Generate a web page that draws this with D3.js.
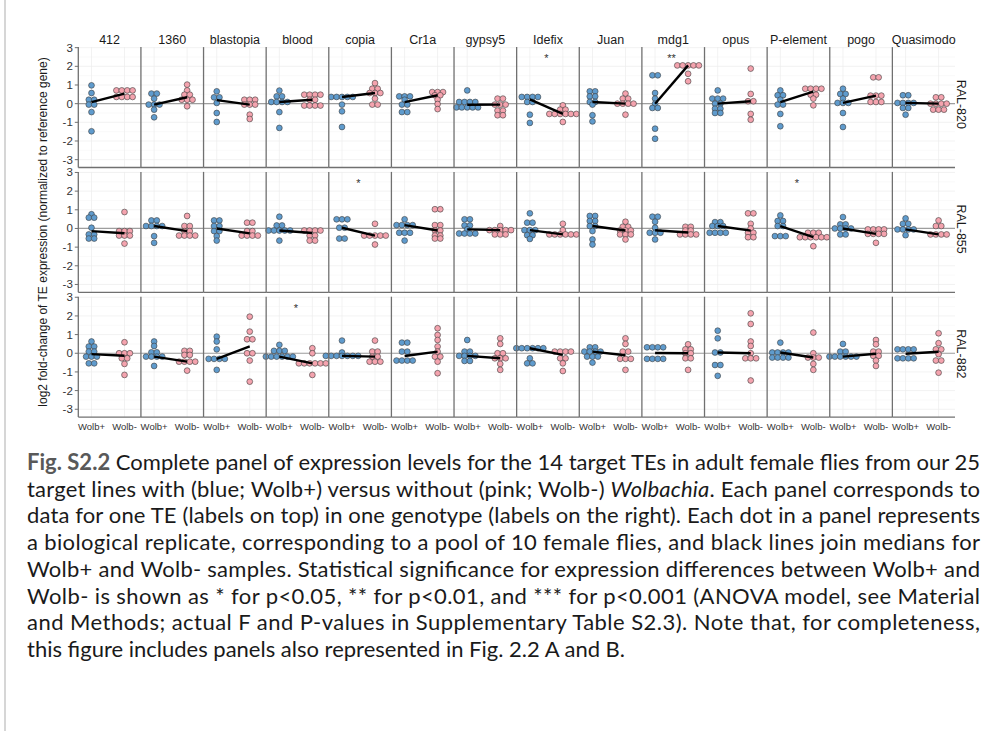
<!DOCTYPE html>
<html>
<head>
<meta charset="utf-8">
<script src="https://cdn.jsdelivr.net/npm/d3@7"></script>
<style>
  body { margin: 0; background: #fff; }
  text { font-family: "Liberation Sans", Arial, sans-serif; }
  .cap { font-family: Lato, "Open Sans", sans-serif; }
</style>
</head>
<body>
<svg id="fig" width="992" height="731"></svg>
<script>
// Transposable elements (columns), genotypes (rows) and infection groups
const elements = ["412","1360","blastopia","blood","copia","Cr1a","gypsy5","Idefix","Juan","mdg1","opus","P-element","pogo","Quasimodo"];
const genotypes = ["RAL-820","RAL-855","RAL-882"];
const groups = ["Wolb+","Wolb-"];
const yTicks = [-3,-2,-1,0,1,2,3];

// log2 fold-change per biological replicate, one array per TE (same order as `elements`)
const plus820 = [
  [0.98,0.57,0.21,0.21,-0.05,-0.05,-0.45,-1.48],
  [0.54,0.54,0.27,-0.05,-0.05,-0.05,-0.32,-0.73],
  [0.66,0.34,0.34,0.04,-0.5,-0.98],
  [0.7,0.39,0.39,0.09,0.09,0.09,0.09,-0.45,-1.3],
  [0.36,0.36,0.36,0.36,0.36,-0.05,-0.41,-1.25],
  [0.39,0.39,0.39,0.21,-0.05,-0.05,-0.45,-0.45],
  [0.71,0.09,0.09,0.09,0.09,-0.2,-0.2,-0.2,-0.2,-0.2],
  [0.36,0.36,0.36,0.36,0.09,0.09,-0.59,-1.03],
  [0.66,0.66,0.39,0.39,0.09,0.09,-0.05,-0.62,-0.95],
  [1.52,1.52,0.57,0.27,0.0,-0.23,-0.23,-1.34,-1.88],
  [0.71,0.27,0.27,0.27,0.0,0.0,-0.27,-0.27,-0.5,-0.5],
  [0.71,0.45,0.45,0.21,-0.05,-0.05,-0.55,-1.21],
  [0.8,0.52,0.52,0.27,0.04,0.04,0.04,-0.5,-1.25],
  [0.45,0.45,0.04,0.04,0.04,0.04,-0.23,-0.23,-0.59]
];
const minus820 = [
  [0.71,0.71,0.71,0.71,0.36,0.36,0.36,0.36],
  [1.02,0.71,0.48,0.48,0.21,0.21,0.21,-0.14],
  [0.21,0.21,0.21,-0.05,-0.05,-0.05,-0.59,-0.82],
  [0.48,0.48,0.48,0.48,0.21,0.21,-0.1,-0.1,-0.1,-0.1],
  [1.1,0.8,0.8,0.57,0.57,0.57,0.27,-0.05,-0.05],
  [0.62,0.62,0.62,0.45,0.45,0.21,-0.02,-0.29],
  [0.27,0.27,-0.05,-0.05,-0.05,-0.37,-0.37,-0.62,-0.62],
  [-0.09,-0.32,-0.32,-0.55,-0.55,-0.55,-0.55,-0.55,-0.55,-0.98],
  [0.54,0.27,0.27,0.0,0.0,0.0,0.0,-0.59],
  [2.05,2.05,2.05,2.05,2.05,1.6,1.2],
  [1.88,0.52,0.13,0.13,-0.55,-0.86],
  [0.8,0.8,0.8,0.8,0.48,0.48,0.27,-0.09],
  [1.41,1.41,0.43,0.43,0.43,0.09,0.09,0.09],
  [0.34,0.34,0.0,0.0,0.0,0.0,-0.32,-0.32,-0.32]
];
const plus855 = [
  [0.76,0.58,0.58,0.04,-0.32,-0.32,-0.54,-0.54],
  [0.43,0.43,0.13,0.13,0.13,0.13,-0.41,-0.77],
  [0.43,0.43,0.13,0.13,-0.14,-0.14,-0.41,-0.65],
  [0.63,0.16,0.16,-0.11,-0.11,-0.11,-0.11,-0.11,-0.65],
  [0.49,0.49,0.49,0.04,0.04,-0.54,-0.54],
  [0.49,0.18,0.18,0.18,0.18,-0.23,-0.23,-0.23,-0.65],
  [0.49,0.49,0.16,0.16,-0.05,-0.27,-0.27,-0.27,-0.27],
  [0.81,0.31,0.31,-0.09,-0.09,-0.09,-0.36,-0.36,-0.56],
  [0.67,0.67,0.4,0.4,0.13,0.13,-0.14,-0.59,-0.86],
  [0.63,0.63,0.36,0.04,-0.23,-0.23,-0.23,-0.59],
  [0.34,0.34,0.13,0.13,0.13,-0.23,-0.23,-0.23,-0.23],
  [0.7,0.4,0.4,0.13,0.13,-0.41,-0.41,-0.41],
  [0.61,0.22,0.22,0.0,0.0,0.0,0.0,-0.32,-0.32],
  [0.54,0.25,0.25,-0.05,-0.05,-0.05,-0.05,-0.36]
];
const minus855 = [
  [0.88,-0.14,-0.14,-0.14,-0.38,-0.38,-0.38,-0.81],
  [0.67,0.13,0.13,-0.14,-0.14,-0.38,-0.38,-0.38,-0.38],
  [0.31,0.31,-0.14,-0.14,-0.38,-0.38,-0.38,-0.38],
  [-0.11,-0.11,-0.11,-0.11,-0.38,-0.38,-0.65,-0.65],
  [0.25,-0.38,-0.38,-0.38,-0.38,-0.38,-0.86],
  [1.03,1.03,0.18,0.18,-0.11,-0.11,-0.38,-0.38,-0.54,-0.54],
  [0.13,-0.09,-0.09,-0.09,-0.09,-0.09,-0.32,-0.32,-0.32],
  [0.25,-0.09,-0.32,-0.32,-0.32,-0.32,-0.32,-0.32],
  [0.36,0.09,0.09,-0.11,-0.11,-0.11,-0.32,-0.32,-0.32,-0.59],
  [0.09,0.09,-0.11,-0.11,-0.32,-0.32,-0.32,-0.32],
  [0.81,0.81,0.25,0.0,-0.23,-0.23,-0.47,-0.47],
  [-0.23,-0.23,-0.23,-0.47,-0.47,-0.47,-0.47,-0.47,-0.47,-0.95],
  [-0.05,-0.05,-0.05,-0.05,-0.29,-0.29,-0.29,-0.29,-0.77],
  [0.43,0.13,0.13,-0.32,-0.32,-0.32,-0.32]
];
const plus882 = [
  [0.63,0.36,0.36,0.09,0.09,-0.18,-0.18,-0.18,-0.54,-0.54],
  [0.63,0.39,0.05,0.05,-0.18,-0.18,-0.18,-0.18,-0.68],
  [0.89,0.63,0.21,-0.3,-0.3,-0.3,-0.3,-0.89],
  [0.45,0.13,0.13,0.13,-0.18,-0.18,-0.18,-0.18,-0.18,-0.18],
  [0.68,0.04,-0.14,-0.14,-0.14,-0.14,-0.14,-0.14,-0.14],
  [0.57,0.57,0.09,0.09,-0.39,-0.39,-0.39,-0.39],
  [0.71,0.09,0.09,-0.14,-0.14,-0.14,-0.14,-0.41,-0.41],
  [0.27,0.27,0.27,0.27,0.27,0.27,-0.27,-0.54,-0.54],
  [0.32,0.32,0.09,0.09,0.09,0.09,-0.18,-0.18,-0.18,-0.5],
  [0.32,0.32,0.32,0.32,-0.3,-0.3,-0.3,-0.3],
  [1.21,0.8,0.04,0.04,-0.63,-0.63,-1.21],
  [0.57,0.04,0.04,0.04,0.04,-0.23,-0.23,-0.23,-0.23],
  [0.5,0.09,0.09,-0.18,-0.18,-0.18,-0.18,-0.18,-0.18],
  [0.21,0.21,0.21,0.21,-0.27,-0.27,-0.27,-0.27]
];
const minus882 = [
  [0.59,0.0,0.0,0.0,-0.27,-0.27,-0.57,-1.16],
  [0.13,0.13,-0.09,-0.09,-0.45,-0.45,-0.45,-0.45,-0.93],
  [1.96,1.16,0.75,0.75,0.0,0.0,-0.39,-1.52],
  [0.27,0.0,-0.54,-0.54,-0.54,-0.54,-0.54,-0.54,-1.16],
  [0.68,0.09,0.09,-0.18,-0.18,-0.45,-0.45,-0.45],
  [1.34,0.98,0.71,0.36,0.09,-0.18,-0.18,-0.45,-1.07],
  [0.8,0.5,0.0,0.0,-0.27,-0.27,-0.27,-0.57,-0.89],
  [0.09,0.09,0.09,0.09,-0.27,-0.27,-0.54,-0.95],
  [0.8,0.5,0.09,0.09,-0.3,-0.3,-0.3,-0.89],
  [0.48,0.21,0.21,0.0,0.0,-0.27,-0.27,-0.89],
  [2.14,1.57,0.63,0.39,0.0,-0.27,-0.27,-0.27,-1.46],
  [1.11,0.0,-0.23,-0.23,-0.23,-0.57,-0.89],
  [0.71,0.48,0.09,0.09,-0.14,-0.14,-0.39,-0.68],
  [1.07,0.54,0.21,0.21,-0.05,-0.39,-0.39,-1.04]
];

// significance labels (TE, genotype, label)
const sigTE = ["Idefix","mdg1","copia","P-element","blood"];
const sigGenotype = ["RAL-820","RAL-820","RAL-855","RAL-855","RAL-882"];
const sigLabel = ["*","**","*","*","*"];

const captionLines = [
  [{b:"Fig. S2.2"},{t:" Complete panel of expression levels for the 14 target TEs in adult female flies from our 25"}],
  [{t:"target lines with (blue; Wolb+) versus without (pink; Wolb-) "},{i:"Wolbachia"},{t:". Each panel corresponds to"}],
  [{t:"data for one TE (labels on top) in one genotype (labels on the right). Each dot in a panel represents"}],
  [{t:"a biological replicate, corresponding to a pool of 10 female flies, and black lines join medians for"}],
  [{t:"Wolb+ and Wolb- samples. Statistical significance for expression differences between Wolb+ and"}],
  [{t:"Wolb- is shown as * for p<0.05, ** for p<0.01, and *** for p<0.001 (ANOVA model, see Material"}],
  [{t:"and Methods; actual F and P-values in Supplementary Table S2.3). Note that, for completeness,"}],
  [{t:"this figure includes panels also represented in Fig. 2.2 A and B."}]
];

const rows = [
  {genotype: genotypes[0], plus: plus820, minus: minus820},
  {genotype: genotypes[1], plus: plus855, minus: minus855},
  {genotype: genotypes[2], plus: plus882, minus: minus882}
];

const svg = d3.select("#fig");
svg.append("rect").attr("width", 992).attr("height", 731).attr("fill", "#fff");
// page edge
svg.append("line").attr("x1", 5).attr("x2", 5).attr("y1", 0).attr("y2", 731)
  .attr("stroke", "#d6d6d6").attr("stroke-width", 2);

const x = d3.scaleBand().domain(elements).range([78.3, 955]).padding(0);
const bw = x.bandwidth();
const xg = d3.scalePoint().domain(groups).range([13.2, 46.2]);
const rowTop = [47.1, 171.9, 296.7];
const panelH = 120.4;
const y = d3.scaleLinear().domain([-3.42, 3.03]).range([panelH, 0]);
const fillOf = {"Wolb+": "#5f9bcd", "Wolb-": "#f4a3ae"};
const dotR = 2.9, dotStep = 5.4;
const axisCol = "#707070";

rows.forEach((row, r) => {
  const g = svg.append("g").attr("transform", `translate(0,${rowTop[r]})`);

  elements.forEach((te, c) => {
    const p = g.append("g").attr("transform", `translate(${x(te)},0)`);

    // grid
    const minor = d3.range(-3, 3.01, 0.5).filter(v => v % 1 !== 0);
    p.selectAll(".gmin").data(minor).join("line")
      .attr("x1", 0).attr("x2", bw).attr("y1", d => y(d)).attr("y2", d => y(d))
      .attr("stroke", "#f4f4f4").attr("stroke-width", 0.5);
    p.selectAll(".gmaj").data(yTicks).join("line")
      .attr("x1", 0).attr("x2", bw).attr("y1", d => y(d)).attr("y2", d => y(d))
      .attr("stroke", "#ececec").attr("stroke-width", 0.7);
    p.selectAll(".gx").data(groups).join("line")
      .attr("x1", d => xg(d)).attr("x2", d => xg(d)).attr("y1", 0).attr("y2", panelH)
      .attr("stroke", "#ececec").attr("stroke-width", 0.7);

    // reference line at zero
    p.append("line").attr("x1", 0).attr("x2", bw).attr("y1", y(0)).attr("y2", y(0))
      .attr("stroke", "#9e9e9e").attr("stroke-width", 1.2);

    // dots, stacked horizontally by value
    const sets = {"Wolb+": row.plus[c], "Wolb-": row.minus[c]};
    groups.forEach(gr => {
      const vals = sets[gr];
      const bins = d3.groups(vals, v => v);
      const pts = [];
      bins.forEach(([v, arr]) => {
        const n = arr.length;
        arr.forEach((_, i) => pts.push({cx: xg(gr) + (i - (n - 1) / 2) * dotStep, cy: y(v)}));
      });
      p.selectAll(null).data(pts).join("circle")
        .attr("cx", d => d.cx).attr("cy", d => d.cy).attr("r", dotR)
        .attr("fill", fillOf[gr]).attr("stroke", "#3d3d3d").attr("stroke-width", 0.6);
    });

    // medians
    const med = groups.map(gr => ({g: gr, m: d3.median(sets[gr])}));
    p.append("path")
      .attr("d", d3.line().x(d => xg(d.g)).y(d => y(d.m))(med))
      .attr("fill", "none").attr("stroke", "#000").attr("stroke-width", 2.4);

    // significance
    sigTE.forEach((s, k) => {
      if (s === te && sigGenotype[k] === row.genotype) {
        p.append("text").attr("x", (xg("Wolb+") + xg("Wolb-")) / 2).attr("y", y(2.5) + 5)
          .attr("text-anchor", "middle").attr("font-size", 11).attr("fill", "#333")
          .text(sigLabel[k]);
      }
    });

    // axis lines
    p.append("line").attr("x1", 0).attr("x2", 0).attr("y1", 0).attr("y2", panelH)
      .attr("stroke", axisCol).attr("stroke-width", 1.3);
    p.append("line").attr("x1", 0).attr("x2", bw).attr("y1", panelH).attr("y2", panelH)
      .attr("stroke", axisCol).attr("stroke-width", 1.3);

    if (r === rows.length - 1) {
      p.selectAll(".xt").data(groups).join("text")
        .attr("x", d => xg(d)).attr("y", panelH + 13)
        .attr("text-anchor", "middle").attr("font-size", 9.5).attr("fill", "#333")
        .text(d => d);
    }
    if (r === 0) {
      g.append("text").attr("x", x(te) + bw / 2).attr("y", -3.5)
        .attr("text-anchor", "middle").attr("font-size", 12.5).attr("fill", "#1a1a1a")
        .text(te);
    }
  });

  // y axis
  const ya = g.append("g").attr("transform", `translate(${x(elements[0])},0)`);
  ya.selectAll(".tk").data(yTicks).join("line")
    .attr("x1", -3.5).attr("x2", 0).attr("y1", d => y(d)).attr("y2", d => y(d))
    .attr("stroke", axisCol).attr("stroke-width", 1);
  ya.selectAll(".tl").data(yTicks).join("text")
    .attr("x", -5.5).attr("y", d => y(d)).attr("dy", "0.35em")
    .attr("text-anchor", "end").attr("font-size", 11.5).attr("fill", "#333")
    .text(d => d);

  // genotype strip
  g.append("text").attr("transform", `translate(961,${panelH / 2 - 3}) rotate(90)`)
    .attr("text-anchor", "middle").attr("dy", "0.35em").attr("font-size", 12.5)
    .attr("fill", "#1a1a1a").text(row.genotype);
});

// y axis title
svg.append("text").attr("transform", `translate(43,232) rotate(-90)`)
  .attr("text-anchor", "middle").attr("dy", "0.35em").attr("font-size", 12)
  .attr("fill", "#1a1a1a")
  .text("log2 fold-change of TE expression (normalized to reference gene)");

// caption
const capTop = 470, capStep = 26.7;
captionLines.forEach((parts, i) => {
  const t = svg.append("text").attr("class", "cap")
    .attr("x", 27).attr("y", capTop + i * capStep)
    .attr("font-size", 22).attr("fill", "#1a1a1a");
  if (i < captionLines.length - 1) t.attr("textLength", 953).attr("lengthAdjust", "spacing");
  parts.forEach(s => {
    const ts = t.append("tspan");
    if (s.b) ts.attr("font-weight", "bold").attr("fill", "#595959").text(s.b);
    else if (s.i) ts.attr("font-style", "italic").text(s.i);
    else ts.text(s.t);
  });
});
</script>
</body>
</html>
